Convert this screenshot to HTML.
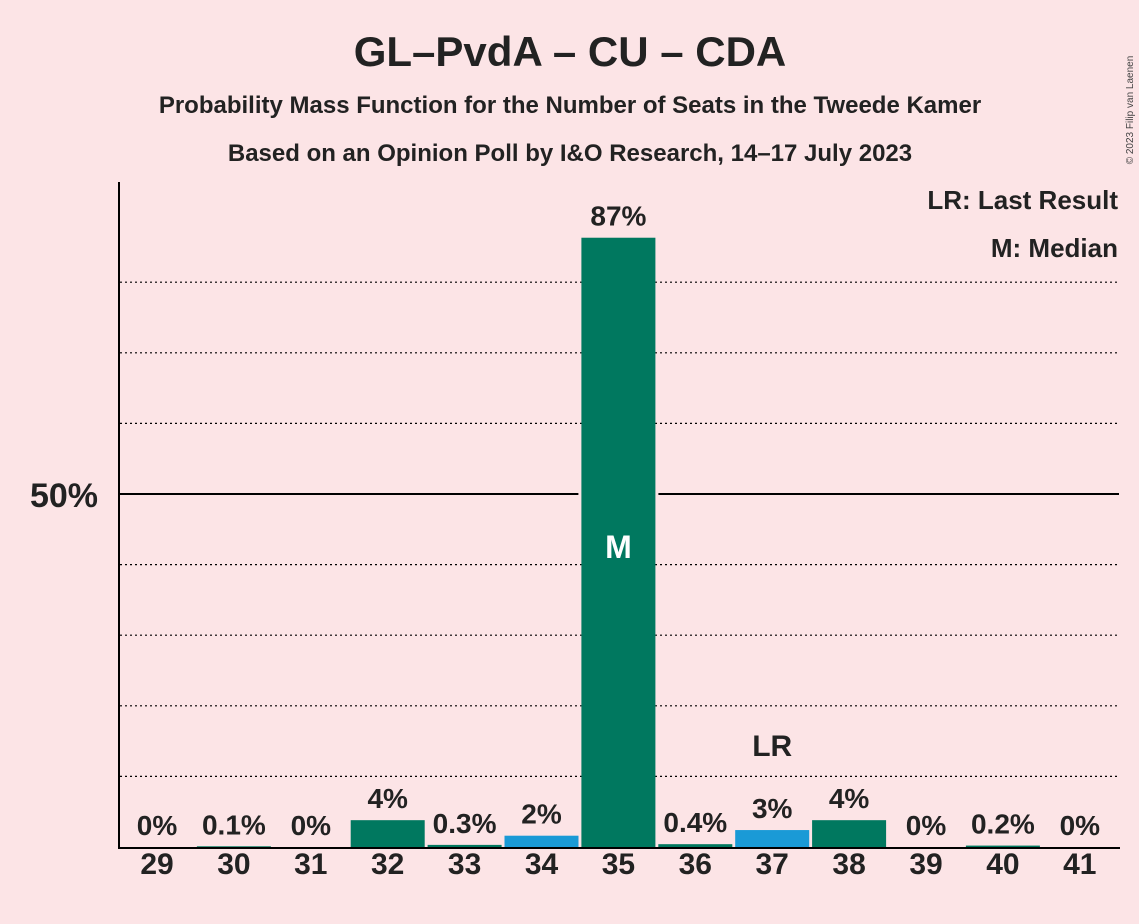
<!DOCTYPE html>
<html><head><meta charset="utf-8"><style>
body{margin:0;background:#fce4e6;}
svg{display:block;font-family:"Liberation Sans",sans-serif;}
</style></head><body>
<svg id="chart" width="1139" height="924">
<rect width="1139" height="924" fill="#fce4e6"/>
<text x="570" y="66" text-anchor="middle" font-size="42" font-weight="bold" fill="#222">GL–PvdA – CU – CDA</text>
<text x="570" y="113" text-anchor="middle" font-size="24" font-weight="bold" fill="#222">Probability Mass Function for the Number of Seats in the Tweede Kamer</text>
<text x="570" y="161" text-anchor="middle" font-size="24" font-weight="bold" fill="#222">Based on an Opinion Poll by I&amp;O Research, 14–17 July 2023</text>
<text x="1133" y="110" font-size="10" fill="#444" transform="rotate(-90 1133 110)" text-anchor="middle">© 2023 Filip van Laenen</text>
<text x="1118" y="209" text-anchor="end" font-size="26" font-weight="bold" fill="#222">LR: Last Result</text>
<text x="1118" y="257" text-anchor="end" font-size="26" font-weight="bold" fill="#222">M: Median</text>
<g id="grid"></g>
<g id="bars"></g>
<line x1="119" y1="182" x2="119" y2="848" stroke="#000" stroke-width="2"/>
<line x1="118" y1="848" x2="1120" y2="848" stroke="#000" stroke-width="2"/>
<text x="98" y="507" text-anchor="end" font-size="34" font-weight="bold" fill="#222">50%</text>
</svg>
<script>
const seats=[29,30,31,32,33,34,35,36,37,38,39,40,41];
const probs=[0,0.1,0,3.8,0.3,1.6,86.3,0.4,2.4,3.8,0,0.2,0];
const labels=["0%","0.1%","0%","4%","0.3%","2%","87%","0.4%","3%","4%","0%","0.2%","0%"];
const colors=["#00785f","#00785f","#00785f","#00785f","#00785f","#1a9ad6","#00785f","#00785f","#1a9ad6","#00785f","#00785f","#00785f","#00785f"];
const gridVals=[10,20,30,40,60,70,80];
const medianSeat=35, lastResultSeat=37;
const NS="http://www.w3.org/2000/svg";
const y0=847, pxPer=7.06;
const y=v=>y0-v*pxPer;
const x=i=>157+i*76.9;
const grid=document.getElementById('grid'), bars=document.getElementById('bars');
function mk(tag,attrs,parent){const e=document.createElementNS(NS,tag);for(const k in attrs)e.setAttribute(k,attrs[k]);parent.appendChild(e);return e;}
gridVals.forEach(v=>{const l=mk('line',{x1:120,x2:1119,y1:y(v),y2:y(v),stroke:'#000','stroke-width':1.2,'stroke-dasharray':'2,3'},grid);

});
const l50=mk('line',{x1:120,x2:1119,y1:y(50),y2:y(50),stroke:'#000','stroke-width':2},grid);


seats.forEach((s,i)=>{
 const h=probs[i]*pxPer;
 if(probs[i]>50){const g=mk('rect',{x:x(i)-40,y:y(50)-2,width:80,height:4,fill:'#fce4e6'},bars);
 
 }
 if(h>0){const r=mk('rect',{x:x(i)-37,y:y0-h,width:74,height:h,fill:colors[i]},bars);
 
 }
 const t=mk('text',{x:x(i),y:y(probs[i])-12,'text-anchor':'middle','font-size':28,'font-weight':'bold',fill:'#222'},bars);
 t.textContent=labels[i];
 
 
 const xt=mk('text',{x:x(i),y:874,'text-anchor':'middle','font-size':30,'font-weight':'bold',fill:'#222'},bars);
 xt.textContent=s;
 
 
 if(s===medianSeat){const m=mk('text',{x:x(i),y:558,'text-anchor':'middle','font-size':32,'font-weight':'bold',fill:'#fff'},bars);m.textContent='M';
 
 }
 if(s===lastResultSeat){const m=mk('text',{x:x(i),y:y(probs[i])-74,'text-anchor':'middle','font-size':30,'font-weight':'bold',fill:'#222'},bars);m.textContent='LR';
 
 }
});
</script>
</body></html>
